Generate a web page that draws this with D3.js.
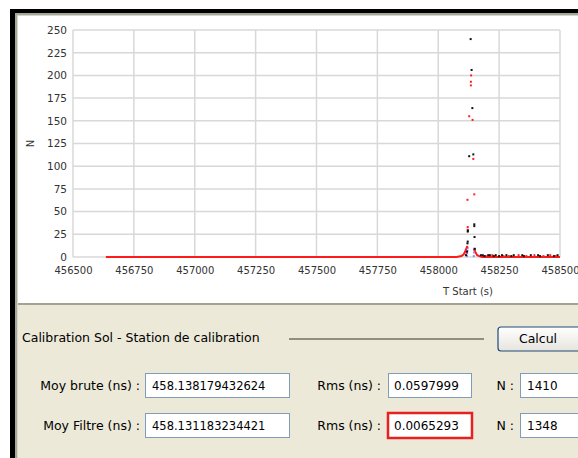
<!DOCTYPE html>
<html>
<head>
<meta charset="utf-8">
<script src="https://cdn.jsdelivr.net/npm/d3@7"></script>
<style>
  html, body { margin: 0; padding: 0; background: #fff; }
  svg { display: block; }
</style>
</head>
<body>
<div id="chart"></div>
<script>
// Axis ticks
const X_TICKS = [456500, 456750, 457000, 457250, 457500, 457750, 458000, 458250, 458500];
const Y_TICKS = [0, 25, 50, 75, 100, 125, 150, 175, 200, 225, 250];

// Raw counts (black points)
const rawT = [458133, 458137, 458140, 458127, 458144, 458148, 458148, 458122, 458121, 458149, 458121, 458120, 458118, 458150, 458114,
  458175, 458183, 458190, 458205, 458212, 458228, 458236, 458250, 458262, 458280, 458300, 458310, 458345, 458352, 458380, 458410, 458418, 458450, 458475, 458490];
const rawN = [240, 206, 164, 111, 113, 36, 34, 29, 28, 22, 17, 15, 6, 9, 2,
  2, 2, 1, 2, 2, 1, 2, 1, 2, 2, 1, 2, 2, 1, 2, 2, 1, 2, 1, 2];

// Filtered counts (red points)
const filtT = [458135, 458134, 458134, 458127, 458141, 458144, 458148, 458120, 458121, 458121, 458118, 458149, 458116,
  458195, 458222, 458268, 458290, 458330, 458362, 458395, 458432, 458460, 458482];
const filtN = [200, 193, 189, 155, 151, 108, 69, 63, 33, 30, 11, 8, 5,
  1, 2, 1, 1, 2, 1, 2, 1, 2, 1];

// Filtered baseline (red line), null breaks the line under the peak
const lineT = [456635, 458075, 458095, 458105, 458112, 458118, 458121, null, 458146, 458150, 458155, 458160, 458168, 458180, 458500];
const lineN = [0, 0, 1, 3, 7, 11, 12, null, 9, 7, 4, 2, 1, 0, 0];

// Rejected points (blue)
const rejT = [458118, 458119, 458120, 458121, 458146, 458147, 458148];
const rejN = [1, 4, 7, 10, 1, 5, 9];

// Panel values
const rows = [
  {label: 'Moy brute (ns) :', moy: '458.138179432624', rms: '0.0597999', n: '1410'},
  {label: 'Moy Filtre (ns) :', moy: '458.131183234421', rms: '0.0065293', n: '1348'},
];

const W = 578, H = 458;
const UI_FONT = '"DejaVu Sans", Verdana, sans-serif';

const svg = d3.select('#chart').append('svg')
  .attr('width', W)
  .attr('height', H);

// Window frame
svg.append('rect').attr('x', 10).attr('y', 9).attr('width', W - 10).attr('height', H - 9).attr('fill', '#000');
svg.append('rect').attr('x', 15).attr('y', 13).attr('width', W - 15).attr('height', H - 13).attr('fill', '#a7a797');
svg.append('rect').attr('x', 17).attr('y', 15).attr('width', W - 17).attr('height', H - 15).attr('fill', '#d6d6cc');
svg.append('rect').attr('x', 18).attr('y', 16).attr('width', W - 18).attr('height', 287).attr('fill', '#fff');
svg.append('rect').attr('x', 18).attr('y', 305).attr('width', W - 18).attr('height', H - 305).attr('fill', '#ece9d8');

// Plot
const plot = {left: 73, right: 560, top: 30, bottom: 257};

const x = d3.scaleLinear().domain([456500, 458500]).range([plot.left, plot.right]);
const y = d3.scaleLinear().domain([0, 250]).range([plot.bottom, plot.top]);

const g = svg.append('g');

// grid
g.append('g').selectAll('line').data(X_TICKS).join('line')
  .attr('x1', d => x(d)).attr('x2', d => x(d))
  .attr('y1', plot.top).attr('y2', plot.bottom)
  .attr('stroke', '#d8d8d8').attr('stroke-width', 1.5);

g.append('g').selectAll('line').data(Y_TICKS).join('line')
  .attr('x1', plot.left).attr('x2', plot.right)
  .attr('y1', d => y(d)).attr('y2', d => y(d))
  .attr('stroke', '#d8d8d8').attr('stroke-width', 1.5);

// axes
const xAxis = g.append('g')
  .attr('transform', `translate(0,${plot.bottom})`)
  .call(d3.axisBottom(x).tickValues(X_TICKS).tickSize(0).tickPadding(10).tickFormat(d3.format('d')));
xAxis.select('.domain').remove();
xAxis.selectAll('text')
  .attr('font-family', UI_FONT).attr('font-size', 10).attr('fill', '#333');

const yAxis = g.append('g')
  .attr('transform', `translate(${plot.left},0)`)
  .call(d3.axisLeft(y).tickValues(Y_TICKS).tickSize(0).tickPadding(6).tickFormat(d3.format('d')));
yAxis.select('.domain').remove();
yAxis.selectAll('text')
  .attr('font-family', UI_FONT).attr('font-size', 10.5).attr('fill', '#333');

g.append('text')
  .attr('transform', `translate(34,${y(125)}) rotate(-90)`)
  .attr('text-anchor', 'middle')
  .attr('font-family', UI_FONT).attr('font-size', 10).attr('fill', '#333')
  .text('N');

g.append('text')
  .attr('x', 468).attr('y', 295)
  .attr('text-anchor', 'middle')
  .attr('font-family', UI_FONT).attr('font-size', 10).attr('fill', '#333')
  .text('T Start (s)');

// data marks
const line = d3.line()
  .defined(d => d[0] !== null)
  .x(d => x(d[0]))
  .y(d => y(d[1]));

g.append('path')
  .datum(d3.zip(lineT, lineN))
  .attr('fill', 'none')
  .attr('stroke', '#ff1a1a')
  .attr('stroke-width', 2)
  .attr('d', line);

function dots(ts, ns, colour, size) {
  g.append('g').selectAll('rect').data(d3.zip(ts, ns)).join('rect')
    .attr('x', d => x(d[0]) - size / 2)
    .attr('y', d => y(d[1]) - size / 2)
    .attr('width', size).attr('height', size)
    .attr('fill', colour);
}

dots(rejT, rejN, '#8c8cff', 2);
dots(filtT, filtN, '#ff2020', 2);
dots(rawT, rawN, '#111', 2);

// Bottom panel
svg.append('rect').attr('x', 18).attr('y', 303).attr('width', W - 18).attr('height', 2).attr('fill', '#a3a393');

const panel = svg.append('g').attr('font-family', UI_FONT).attr('font-size', 12.5).attr('fill', '#000');

panel.append('text').attr('x', 22).attr('y', 342).text('Calibration Sol - Station de calibration');
panel.append('line').attr('x1', 289).attr('x2', 484).attr('y1', 339).attr('y2', 339)
  .attr('stroke', '#8f8f80').attr('stroke-width', 2);

const grad = svg.append('defs').append('linearGradient').attr('id', 'btn').attr('x1', 0).attr('x2', 0).attr('y1', 0).attr('y2', 1);
grad.append('stop').attr('offset', '0%').attr('stop-color', '#ffffff');
grad.append('stop').attr('offset', '100%').attr('stop-color', '#e6e4dc');

panel.append('rect').attr('x', 498).attr('y', 327).attr('width', 90).attr('height', 24).attr('rx', 3)
  .attr('fill', 'url(#btn)').attr('stroke', '#1f4b7a').attr('stroke-width', 1.2);
panel.append('text').attr('x', 538).attr('y', 343).attr('text-anchor', 'middle').text('Calcul');

const rowTop = [373, 413];

rows.forEach((r, i) => {
  const top = rowTop[i];
  const base = top + 17;
  panel.append('text').attr('x', 140).attr('y', base).attr('text-anchor', 'end').text(r.label);
  panel.append('rect').attr('x', 145.5).attr('y', top + 0.5).attr('width', 144).attr('height', 24)
    .attr('fill', '#fff').attr('stroke', '#7f9db9');
  panel.append('text').attr('x', 152).attr('y', base).attr('font-size', 11.5).text(r.moy);

  panel.append('text').attr('x', 381).attr('y', base).attr('text-anchor', 'end').text('Rms (ns) :');
  const rmsBox = panel.append('rect').attr('x', 388.5).attr('y', top + 0.5).attr('width', 83).attr('height', 24)
    .attr('fill', '#fff').attr('stroke', '#7f9db9');
  if (i === 1) {
    rmsBox.attr('x', 388).attr('y', top).attr('width', 84).attr('height', 25)
      .attr('stroke', '#e8201e').attr('stroke-width', 2.5);
  }
  panel.append('text').attr('x', 394).attr('y', base).attr('font-size', 12).text(r.rms);

  panel.append('text').attr('x', 514).attr('y', base).attr('text-anchor', 'end').text('N :');
  panel.append('rect').attr('x', 520.5).attr('y', top + 0.5).attr('width', 70).attr('height', 24)
    .attr('fill', '#fff').attr('stroke', '#7f9db9');
  panel.append('text').attr('x', 527).attr('y', base).attr('font-size', 12).text(r.n);
});
</script>
</body>
</html>
